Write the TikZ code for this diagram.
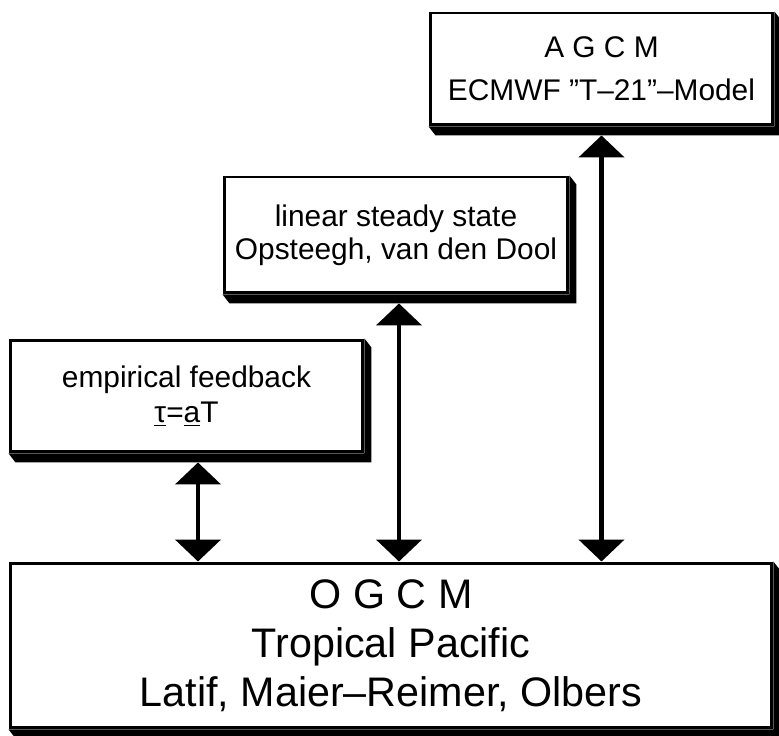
\documentclass[tikz,border=0pt]{standalone}
\usepackage{fontspec}
\setmainfont{Liberation Sans}
\usetikzlibrary{arrows.meta,calc}

\begin{document}
\begin{tikzpicture}[x=0.02cm, y=-0.02cm]
        \tikzstyle{model}=[draw, fill=white, line width=1.7pt, align=center, inner sep=0pt,
                           font=\fontsize{17}{20}\selectfont]
        \tikzstyle{biarrow}=[line width=2.8pt, {Triangle[width=0.9cm,length=0.44cm]}-{Triangle[width=0.9cm,length=0.44cm]}]

        \useasboundingbox (0,0) rectangle (779,736);

        \node (agcm)      [model, minimum width=6.86cm, minimum height=2.24cm] at (601.5,69)
            {A G C M\\[4.4pt] ECMWF "T--21"--Model};
        \node (linear)    [model, minimum width=6.88cm, minimum height=2.32cm] at (396,235)
            {linear steady state\\[-1pt] Opsteegh, van den Dool};
        \node (empirical) [model, minimum width=7.06cm, minimum height=2.24cm] at (186.5,396)
            {empirical feedback\\ \underline{τ}=\underline{a}T};
        \node (ogcm)      [model, minimum width=15.24cm, minimum height=3.3cm, font=\fontsize{23.5}{28}\selectfont] at (391,645.5)
            {O G C M\\ Tropical Pacific\\ Latif, Maier--Reimer, Olbers};

        % solid shadows under and right of every box
        \foreach \n in {agcm,linear,empirical,ogcm}
            \fill (\n.south west) -- ++(7,9) -- ($(\n.south east)+(7,9)$)
                  -- ($(\n.north east)+(7,9)$) -- (\n.north east) -- (\n.south east) -- cycle;

        \coordinate (e1) at ([xshift=0.23cm,yshift=-0.18cm]empirical.south);
        \coordinate (l1) at ([xshift=0.06cm,yshift=-0.18cm]linear.south);
        \coordinate (a1) at ([yshift=-0.18cm]agcm.south);

        \draw[biarrow] (e1) -- (e1 |- ogcm.north);
        \draw[biarrow] (l1) -- (l1 |- ogcm.north);
        \draw[biarrow] (a1) -- (a1 |- ogcm.north);

    \end{tikzpicture}
\end{document}
